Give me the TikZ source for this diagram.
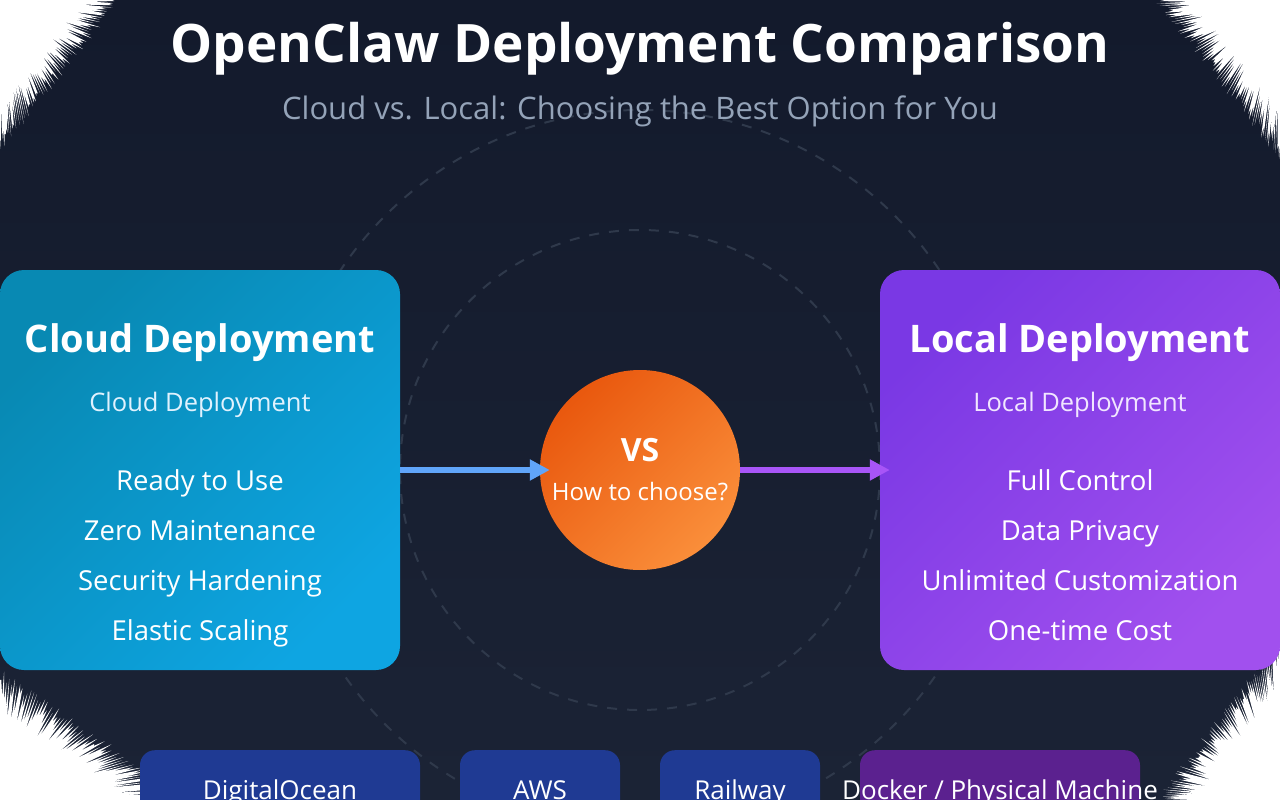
\documentclass[tikz,border=0pt]{standalone}
\usepackage{fontspec}
\setmainfont{Open Sans}
\usetikzlibrary{arrows.meta,positioning,calc}

\definecolor{bgtop}{HTML}{131A2C}
\definecolor{bgbot}{HTML}{1B2335}
\definecolor{ringcol}{HTML}{2F394B}
\definecolor{cloudA}{HTML}{0889B3}
\definecolor{cloudB}{HTML}{0EA5E2}
\definecolor{localA}{HTML}{7A38E4}
\definecolor{localB}{HTML}{A150EE}
\definecolor{vsA}{HTML}{E9580E}
\definecolor{vsB}{HTML}{FA8E3A}
\definecolor{subgray}{HTML}{94A3B8}
\definecolor{cloudsub}{HTML}{E0F2FE}
\definecolor{localsub}{HTML}{F1E6FF}
\definecolor{arrowblue}{HTML}{60A5FA}
\definecolor{arrowpurple}{HTML}{A855F7}
\definecolor{hostblue}{HTML}{1F3A93}
\definecolor{hostpurple}{HTML}{5B218F}

% white brush-torn corner: corner, start on one edge, end on other edge
\newcommand{\brush}[6]{%
  \fill[white] (#1,#2) -- (#3,#4)
    \foreach \i [evaluate=\i as \t using (\i-0.5)/70,
                 evaluate=\i as \u using \i/70,
                 evaluate=\i as \a using 1+0.1*rnd,
                 evaluate=\i as \b using 1-0.3*rnd] in {1,...,70}
      { -- ({#1+\a*(#3+\t*(#5-#3)-#1)}, {#2+\a*(#4+\t*(#6-#4)-#2)})
        -- ({#1+\b*(#3+\u*(#5-#3)-#1)}, {#2+\b*(#4+\u*(#6-#4)-#2)}) }
    -- (#5,#6) -- cycle;}

\begin{document}
\begin{tikzpicture}
[x=1pt,y=-1pt,
 every node/.style={text=white,align=center,inner sep=0pt},
 card/.style={rounded corners=24pt,minimum width=400pt,minimum height=400pt,shading angle=45},
 head/.style={font=\fontsize{38}{44}\selectfont\bfseries,anchor=base},
 sub/.style={font=\fontsize{25.5}{30}\selectfont,anchor=base},
 item/.style={font=\fontsize{27.5}{32}\selectfont,anchor=base},
 host/.style={rounded corners=15pt,minimum height=100pt,anchor=north},
 hostlabel/.style={font=\fontsize{26}{30}\selectfont,anchor=base},
 ring/.style={draw=ringcol,line width=2pt,dash pattern=on 10pt off 10pt},
 link/.style={line width=6pt,-{Triangle[length=20pt,width=20pt]}}]

  \useasboundingbox (0,0) rectangle (1280,800);
  \clip (0,0) rectangle (1280,800);

  % background
  \shade[top color=bgtop,bottom color=bgbot] (0,0) rectangle (1280,800);
  \pgfmathsetseed{4242}
  \brush{0}{0}{112}{0}{0}{140}
  \brush{1280}{0}{1165}{0}{1280}{148}
  \brush{0}{800}{0}{680}{175}{800}
  \brush{1280}{800}{1280}{652}{1165}{800}

  % rings
  \draw[ring] (640,470) circle (360);
  \draw[ring] (640,470) circle (240);

  % title
  \node[font=\fontsize{53}{60}\selectfont\bfseries,anchor=base] (title) at (640,63) {OpenClaw Deployment Comparison};
  \node[font=\fontsize{31}{36}\selectfont,text=subgray,anchor=base] (subtitle) at (640,119) {Cloud vs. Local: Choosing the Best Option for You};

  % cards
  \node[top color=cloudA,bottom color=cloudB,card] (cloud) at (200,470) {};
  \node[top color=localA,bottom color=localB,card] (local) at (1080,470) {};
  \node[top color=vsA,bottom color=vsB,shading angle=45,circle,minimum size=200pt] (vs) at (640,470) {};

  \node[head] (cloudhead) at (200,352) {Cloud Deployment};
  \node[sub,text=cloudsub] (cloudsub) at (200,411) {Cloud Deployment};
  \foreach \t [count=\k] in {Ready to Use,Zero Maintenance,Security Hardening,Elastic Scaling}
    \node[item] (c\k) at (200,{440+50*\k}) {\t};

  \node[head] (localhead) at (1080,352) {Local Deployment};
  \node[sub,text=localsub] (localsub) at (1080,411) {Local Deployment};
  \foreach \t [count=\k] in {Full Control,Data Privacy,Unlimited Customization,One-time Cost}
    \node[item] (l\k) at (1080,{440+50*\k}) {\t};

  \node[font=\fontsize{32}{36}\selectfont\bfseries,anchor=base] (vstext) at (640,461) {VS};
  \node[font=\fontsize{24}{28}\selectfont,anchor=base] (vsq) at (640,500) {How to choose?};

  % arrows
  \draw[link,arrowblue] (cloud.east) -- ([xshift=10pt]vs.west);
  \draw[link,arrowpurple] (vs.east) -- ([xshift=10pt]local.west);

  % hosts
  \node[host,fill=hostblue,minimum width=280pt] (do) at (280,750) {};
  \node[host,fill=hostblue,minimum width=160pt] (aws) at (540,750) {};
  \node[host,fill=hostblue,minimum width=160pt] (rail) at (740,750) {};
  \node[host,fill=hostpurple,minimum width=280pt] (docker) at (1000,750) {};
  \foreach \n/\t in {do/DigitalOcean,aws/AWS,rail/Railway,docker/{Docker / Physical Machine}}
    \node[hostlabel] at ([yshift=-49pt]\n.north) {\t};

\end{tikzpicture}
\end{document}
